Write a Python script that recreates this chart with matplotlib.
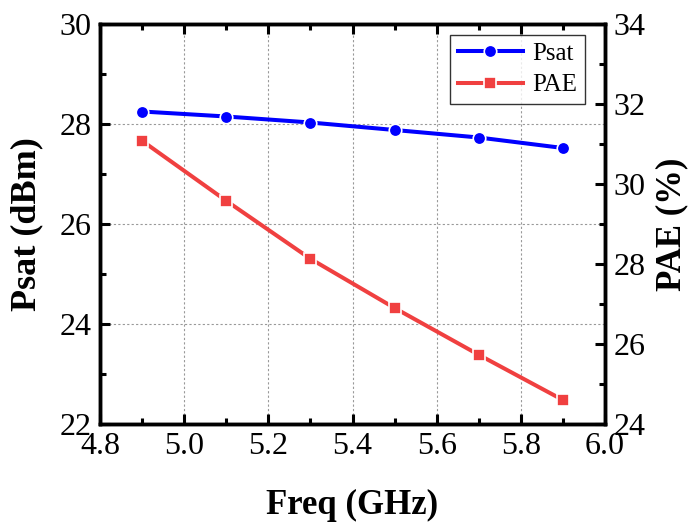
import matplotlib
matplotlib.use("Agg")
import matplotlib.pyplot as plt
from matplotlib.ticker import MultipleLocator

plt.rcParams['font.family'] = ['Liberation Serif', 'DejaVu Serif']
plt.rcParams['mathtext.fontset'] = 'stix'

freq = [4.9, 5.1, 5.3, 5.5, 5.7, 5.9]
psat = [28.25, 28.15, 28.03, 27.88, 27.73, 27.52]
pae = [31.08, 29.58, 28.13, 26.90, 25.73, 24.60]

x_ticks = [4.8, 5.0, 5.2, 5.4, 5.6, 5.8, 6.0]
psat_ticks = [22, 24, 26, 28, 30]
pae_ticks = [24, 26, 28, 30, 32, 34]

blue = '#0000FF'
red = '#F04040'

W, H = 689, 522
fig = plt.figure(figsize=(W/100, H/100), dpi=100)
L, R, B, T = 100, 605, 424, 24
ax = fig.add_axes([L/W, 1 - B/H, (R-L)/W, (B-T)/H])
ax2 = ax.twinx()

l1, = ax.plot(freq, psat, color=blue, lw=2.9, marker='o', ms=9, mec='white', mew=1.2,
              mfc=blue, label='Psat', zorder=3)
l2, = ax2.plot(freq, pae, color=red, lw=2.9, marker='s', ms=8.5, mec='white', mew=1.2,
               mfc=red, label='PAE', zorder=3)

ax.set_xlim(4.8, 6.0)
ax.set_ylim(22, 30)
ax2.set_ylim(24, 34)
ax.set_xticks(x_ticks)
ax.set_xticklabels([f'{v:.1f}' for v in x_ticks])
ax.set_yticks(psat_ticks)
ax2.set_yticks(pae_ticks)
ax.xaxis.set_minor_locator(MultipleLocator(0.1))
ax.yaxis.set_minor_locator(MultipleLocator(1))
ax2.yaxis.set_minor_locator(MultipleLocator(1))

ax.grid(True, which='major', color='#999999', ls=(0, (2, 2)), lw=0.8)
ax.set_axisbelow(True)

for a in (ax, ax2):
    for s in a.spines.values():
        s.set_linewidth(2.5)
ax.tick_params(axis='both', which='major', direction='in', length=7, width=2.2, labelsize=23, pad=6,
               top=True)
ax.tick_params(axis='both', which='minor', direction='in', length=4, width=2.2, top=True)
ax2.tick_params(axis='y', which='major', direction='in', length=7, width=2.2, labelsize=23, pad=6)
ax2.tick_params(axis='y', which='minor', direction='in', length=4, width=2.2)

ax.set_xlabel('Freq (GHz)', fontsize=25, fontweight='bold', labelpad=20)
ax.set_ylabel('Psat (dBm)', fontsize=26, fontweight='bold', labelpad=12)
ax2.set_ylabel('PAE (%)', fontsize=25, fontweight='bold', labelpad=7)

leg = fig.legend(handles=[l1, l2], loc='upper right',
                 bbox_to_anchor=(585/W, 1 - 35/H), fontsize=18,
                 frameon=True, fancybox=False, edgecolor='black',
                 borderpad=0.3, handlelength=2.6, labelspacing=0.35, handletextpad=0.4,
                 borderaxespad=0)
leg.get_frame().set_linewidth(1.0)

fig.savefig('out.png', dpi=100)
